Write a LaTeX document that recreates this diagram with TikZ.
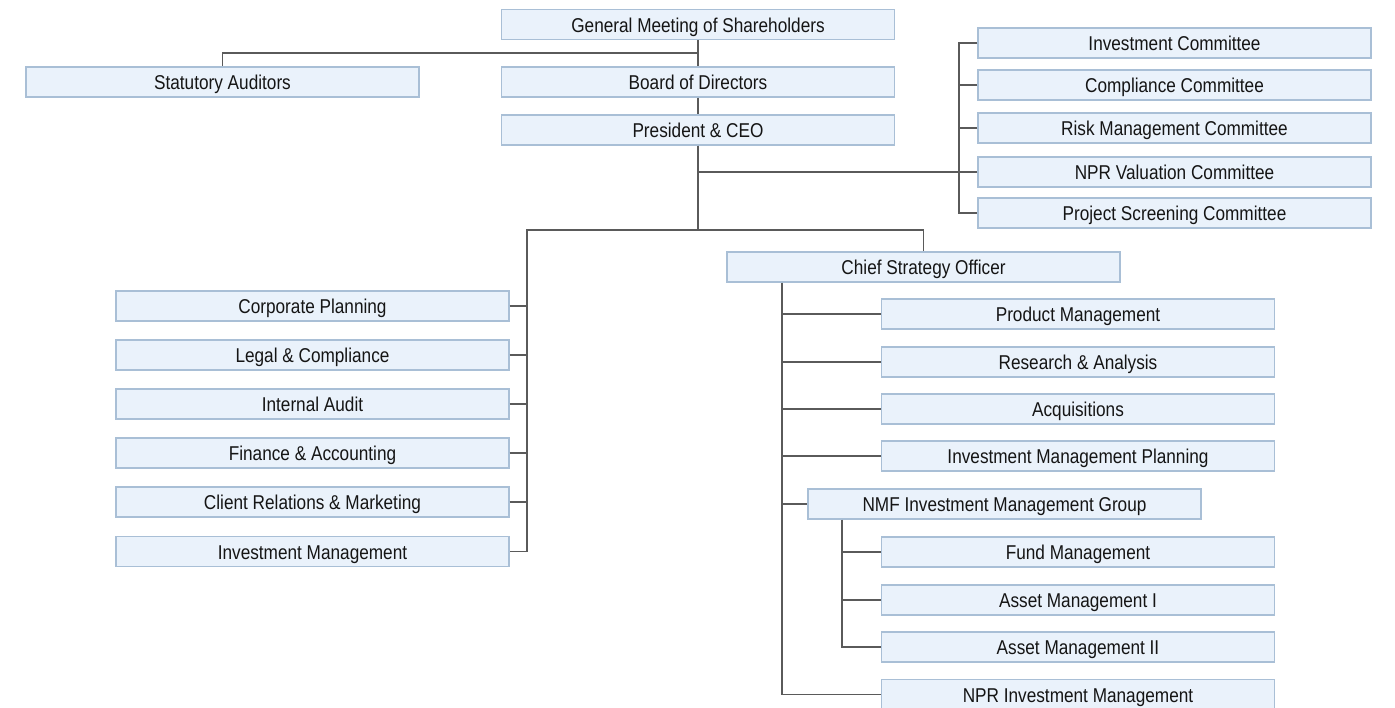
\documentclass[tikz,border=0pt]{standalone}
\usepackage{fontspec}
\setmainfont{Liberation Sans}[FakeStretch=0.86]
\usetikzlibrary{positioning}
\definecolor{bfill}{HTML}{EAF2FB}
\definecolor{bline}{HTML}{A9BFD6}
\definecolor{lgray}{HTML}{5A5A5A}
\definecolor{tcol}{HTML}{151515}

\begin{document}
\begin{tikzpicture}[x=1pt,y=-1pt,
  font=\fontsize{20}{23}\selectfont, text=tcol,
  b/.style={draw=bline,fill=bfill,line width=1.2pt,minimum width=393pt,minimum height=30pt,
    inner sep=0pt,text height=15pt,text depth=0pt},
  l/.style={draw=lgray,line width=1.4pt}]
\useasboundingbox (0,0) rectangle (1395,707);
% top of the chart
\node[b] (gm) at (698,24.5) {General Meeting of Shareholders};
\node[b] (sa) at (222.5,82) {Statutory Auditors};
\node[b] (bd) at (698,82) {Board of Directors};
\node[b] (ceo) at (698,130) {President \& CEO};
% committees
\node[b] (ic) at (1174.5,43) {Investment Committee};
\node[b] (cc) at (1174.5,85) {Compliance Committee};
\node[b] (rc) at (1174.5,128) {Risk Management Committee};
\node[b] (vc) at (1174.5,172) {NPR Valuation Committee};
\node[b] (ps) at (1174.5,213) {Project Screening Committee};
% left departments
\node[b] (cp) at (312.5,306) {Corporate Planning};
\node[b] (lc) at (312.5,355) {Legal \& Compliance};
\node[b] (ia) at (312.5,404) {Internal Audit};
\node[b] (fa) at (312.5,453) {Finance \& Accounting};
\node[b] (cr) at (312.5,502) {Client Relations \& Marketing};
\node[b] (im) at (312.5,551.5) {Investment Management};
% strategy side
\node[b] (cso) at (923.5,267) {Chief Strategy Officer};
\node[b] (pm) at (1078,314) {Product Management};
\node[b] (ra) at (1078,362) {Research \& Analysis};
\node[b] (aq) at (1078,409) {Acquisitions};
\node[b] (imp) at (1078,456) {Investment Management Planning};
\node[b] (nmf) at (1004.5,504) {NMF Investment Management Group};
\node[b] (fm) at (1078,552) {Fund Management};
\node[b] (am1) at (1078,600) {Asset Management I};
\node[b] (am2) at (1078,647) {Asset Management II};
\node[b] (npr) at (1078,694.5) {NPR Investment Management};

% connectors
\coordinate (j1) at (698,53);
\coordinate (t) at (698,230);
\coordinate (cbus) at (959,128);
\coordinate (lbus) at (527,551.5);
\coordinate (rbus) at (782,694.5);
\coordinate (nbus) at (842,647);
\draw[l] (gm)--(bd); \draw[l] (bd)--(ceo); \draw[l] (j1)-|(sa);
\draw[l] (ceo)|-(vc);
\draw[l] (ic.west)-|(cbus)|-(ps.west);
\foreach \n in {cc,rc,vc} \draw[l] (\n.west)--(\n.west-|cbus);
\draw[l] (ceo.south)--(t); \draw[l] (t)-|(cso);
\draw[l] (t)-|(lbus)--(im.east);
\foreach \n in {cp,lc,ia,fa,cr} \draw[l] (\n.east)--(\n.east-|lbus);
\draw[l] (cso.south-|rbus)--(rbus)--(npr.west);
\foreach \n in {pm,ra,aq,imp,nmf} \draw[l] (\n.west-|rbus)--(\n.west);
\draw[l] (nmf.south-|nbus)--(nbus)--(am2.west);
\foreach \n in {fm,am1} \draw[l] (\n.west-|nbus)--(\n.west);
\end{tikzpicture}
\end{document}
